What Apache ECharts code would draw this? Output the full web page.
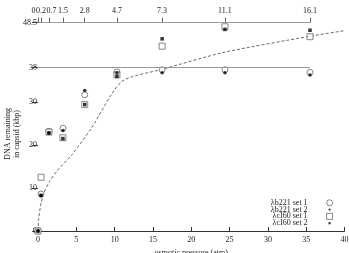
<!DOCTYPE html>
<html>
<head>
<meta charset="utf-8">
<script src="https://cdn.jsdelivr.net/npm/echarts@6/dist/echarts.min.js"></script>
<style>
  html, body { margin: 0; padding: 0; background: #fff; }
  #chart { width: 349px; height: 253px; }
</style>
</head>
<body>
<div id="chart"></div>
<script>
// osmotic pressure (atm) at each measurement
const pressure = [0, 0.4, 1.43, 3.26, 6.1, 10.3, 16.2, 24.4, 35.5]

// DNA remaining in capsid (kbp)
const b221Set1 = [0, 8.6, 23.2, 23.9, 31.7, 37.0, 37.5, 37.5, 36.9]
const b221Set2 = [0, 8.2, 22.8, 23.4, 32.7, 36.8, 36.8, 36.8, 36.3]
const cI60Set1 = [0, 12.5, 23.0, 21.7, 29.4, 36.3, 43.0, 47.5, 45.2]
const cI60Set2 = [0, 8.3, 22.8, 21.5, 29.4, 36.0, 44.7, 46.9, 46.7]

// dashed theory curve
const curveX = [0, 0.1, 0.4, 0.8, 1.5, 2.5, 4.4, 7.0, 10.9, 16.2, 24.4, 35.5, 40]
const curveY = [0, 3.0, 6.5, 9.0, 11.5, 14.0, 17.7, 24.0, 34.7, 37.6, 41.6, 45.3, 46.6]

// top axis: ejection force (pN)
const forceLabels = ['0', '0.2', '0.7', '1.5', '2.8', '4.7', '7.3', '11.1', '16.1']

const yTicks = [0, 10, 20, 30, 38, 48.5]
const xTicks = [0, 5, 10, 15, 20, 25, 30, 35, 40]
const genomeLength = 38

const zip = (xs, ys) => xs.map((x, i) => [x, ys[i]])

const font = 'Liberation Serif'
const textColor = '#222'

// small legend icons: an invisible 10x10 box keeps the mark small
const dotIcon = 'path://M0,0L0,0M10,10L10,10M3.2,5A1.8,1.8 0 1,0 6.8,5A1.8,1.8 0 1,0 3.2,5Z'
const smallSquareIcon = 'path://M0,0L0,0M10,10L10,10M3.2,3.2L6.8,3.2L6.8,6.8L3.2,6.8Z'

const openStyle = { color: '#fff', borderColor: '#444', borderWidth: 0.8 }
const filledStyle = { color: '#000', borderWidth: 0 }

const chart = echarts.init(document.getElementById('chart'))

chart.setOption({
  animation: false,
  grid: [
    { left: 38, right: 4.5, top: 22.5, bottom: 22, outerBoundsMode: 'none' },
    // top axis only reaches the last measurement
    { left: 38, right: 39, top: 22.5, height: 10, outerBoundsMode: 'none' },
  ],
  legend: {
    right: 16,
    top: 198.8,
    padding: 0,
    orient: 'vertical',
    align: 'right',
    itemWidth: 6,
    itemHeight: 6,
    itemGap: -1.2,
    textStyle: { fontFamily: font, fontSize: 8, color: textColor, padding: [0, 14, 0, 0] },
    data: [
      { name: 'λb221 set 1', icon: 'circle', itemStyle: openStyle },
      { name: 'λb221 set 2', icon: dotIcon, itemStyle: filledStyle },
      { name: 'λcI60 set 1', icon: 'rect', itemStyle: openStyle },
      { name: 'λcI60 set 2', icon: smallSquareIcon, itemStyle: filledStyle },
    ],
  },
  xAxis: [
    {
      type: 'value',
      gridIndex: 0,
      min: 0,
      max: 40,
      name: 'osmotic pressure (atm)',
      nameLocation: 'middle',
      nameGap: 13,
      nameTextStyle: { fontFamily: font, fontSize: 8, color: textColor },
      axisLine: { onZero: false, lineStyle: { color: '#333', width: 1 } },
      axisTick: { inside: true, length: 4, lineStyle: { color: '#333' }, customValues: xTicks },
      axisLabel: { fontFamily: font, fontSize: 8, color: textColor, margin: 5, customValues: xTicks },
      splitLine: { show: false },
    },
    {
      type: 'value',
      gridIndex: 1,
      position: 'top',
      min: 0,
      max: 35.5,
      name: 'ejection force (pN)',
      nameLocation: 'middle',
      nameGap: 24,
      nameTextStyle: { fontFamily: font, fontSize: 8, color: textColor },
      axisLine: { onZero: false, lineStyle: { color: '#999', width: 1 } },
      axisTick: { length: 5, lineStyle: { color: '#666' }, customValues: pressure },
      axisLabel: {
        fontFamily: font,
        fontSize: 8,
        color: textColor,
        margin: 8,
        customValues: pressure,
        formatter: (value) => {
          const label = forceLabels[pressure.indexOf(value)]
          if (label === '0') return '{a|0}'
          if (label === '0.7') return '{b|0.7}'
          return label
        },
        rich: {
          a: { fontFamily: font, fontSize: 8, color: textColor, padding: [0, 9, 0, 0] },
          b: { fontFamily: font, fontSize: 8, color: textColor, padding: [0, 0, 0, 5] },
        },
      },
      splitLine: { show: false },
    },
  ],
  yAxis: [
    {
      type: 'value',
      gridIndex: 0,
      min: 0,
      max: 48.5,
      axisLine: { show: false },
      axisTick: { show: true, length: 6, lineStyle: { color: '#444' }, customValues: yTicks },
      axisLabel: { fontFamily: font, fontSize: 8, color: textColor, margin: 1, customValues: yTicks },
      splitLine: { show: false },
    },
    {
      type: 'value',
      gridIndex: 1,
      show: false,
    },
  ],
  graphic: [
    {
      type: 'text',
      rotation: Math.PI / 2,
      x: 12,
      y: 134,
      style: {
        text: 'DNA remaining\nin capsid (kbp)',
        fontFamily: font,
        fontSize: 8,
        fill: textColor,
        align: 'center',
        verticalAlign: 'middle',
        lineHeight: 9,
      },
    },
  ],
  series: [
    {
      name: 'curve',
      type: 'line',
      data: zip(curveX, curveY),
      smooth: 0.25,
      showSymbol: false,
      lineStyle: { type: [3, 2], width: 0.8, color: '#444' },
      markLine: {
        silent: true,
        symbol: 'none',
        label: { show: false },
        lineStyle: { type: 'solid', color: '#999', width: 1 },
        data: [[{ coord: [0, genomeLength] }, { coord: [pressure[pressure.length - 1], genomeLength] }]],
      },
      z: 1,
    },
    {
      name: 'λb221 set 1',
      type: 'scatter',
      data: zip(pressure, b221Set1),
      symbol: 'circle',
      symbolSize: 6,
      itemStyle: openStyle,
      z: 2,
    },
    {
      name: 'λcI60 set 1',
      type: 'scatter',
      data: zip(pressure, cI60Set1),
      symbol: 'rect',
      symbolSize: 6,
      itemStyle: openStyle,
      z: 2,
    },
    {
      name: 'λb221 set 2',
      type: 'scatter',
      data: zip(pressure, b221Set2),
      symbol: 'circle',
      symbolSize: 3.5,
      itemStyle: filledStyle,
      z: 3,
    },
    {
      name: 'λcI60 set 2',
      type: 'scatter',
      data: zip(pressure, cI60Set2),
      symbol: 'rect',
      symbolSize: 3.5,
      itemStyle: filledStyle,
      z: 3,
    },
  ],
})
</script>
</body>
</html>
